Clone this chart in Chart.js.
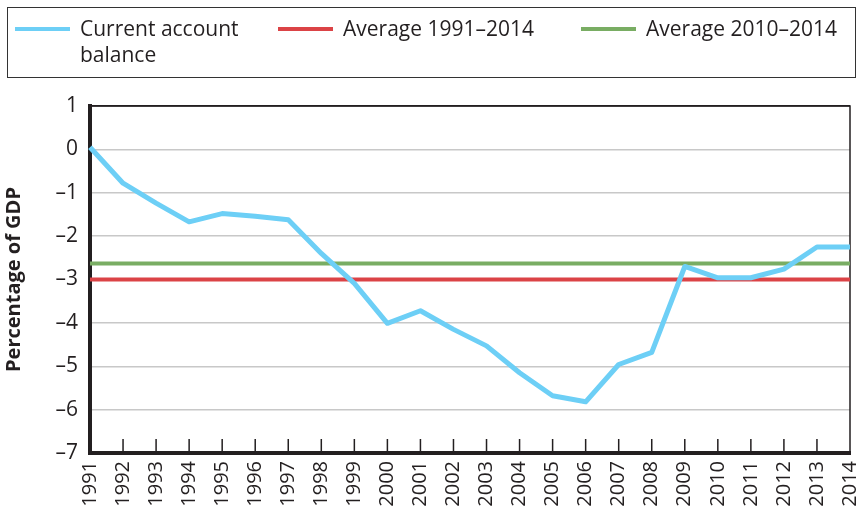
<!DOCTYPE html>
<html>
<head>
<meta charset="utf-8">
<script src="https://cdn.jsdelivr.net/npm/chart.js@4.4.1/dist/chart.umd.min.js"></script>
<style>
    body { margin: 0; background: #fff; font-family: 'Open Sans', sans-serif; color: #231f20; }
    #wrap { position: relative; width: 861px; height: 511px; overflow: hidden; }
    #chart { position: absolute; left: 0; top: 0; }
    #legend { position: absolute; left: 7px; top: 7px; width: 849px; height: 71px; border: 1.5px solid #333; box-sizing: border-box; }
    .swatch { position: absolute; height: 4px; width: 55px; top: 19px; }
    .lab { position: absolute; top: 7px; font-size: 21px; line-height: 26px; }
</style>
</head>
<body>
<div id="wrap">
    <canvas id="chart" width="861" height="511"></canvas>
    <div id="legend"></div>
</div>
<script>
const years = ['1991', '1992', '1993', '1994', '1995', '1996', '1997', '1998', '1999', '2000', '2001', '2002',
    '2003', '2004', '2005', '2006', '2007', '2008', '2009', '2010', '2011', '2012', '2013', '2014'];
const balance = [0.05, -0.78, -1.24, -1.67, -1.48, -1.54, -1.62, -2.40, -3.09, -4.01, -3.72, -4.15,
    -4.53, -5.15, -5.68, -5.82, -4.96, -4.68, -2.70, -2.96, -2.96, -2.76, -2.25, -2.25];
const avg1991to2014 = -3.0;
const avg2010to2014 = -2.63;

const seriesNames = ['Current account\nbalance', 'Average 1991\u20132014', 'Average 2010\u20132014'];
const seriesColors = ['#6dcff6', '#db4346', '#79ad63'];

// legend (html, matches the boxed legend of the original)
const legendPos = [{ line: 7, text: 72 }, { line: 270, text: 335 }, { line: 573, text: 638 }];
const legendEl = document.getElementById('legend');
seriesNames.forEach((name, i) => {
    const sw = document.createElement('div');
    sw.className = 'swatch';
    sw.style.left = legendPos[i].line + 'px';
    sw.style.background = seriesColors[i];
    legendEl.appendChild(sw);
    const lab = document.createElement('div');
    lab.className = 'lab';
    lab.style.left = legendPos[i].text + 'px';
    lab.innerHTML = name.replace('\n', '<br>');
    legendEl.appendChild(lab);
});

const frameAndTicks = {
    id: 'frameAndTicks',
    beforeDatasetsDraw(chart) {
        const { ctx, chartArea, scales } = chart;
        ctx.save();
        ctx.strokeStyle = '#231f20';
        ctx.lineWidth = 1.5;
        ctx.beginPath();
        ctx.moveTo(chartArea.left, chartArea.top);
        ctx.lineTo(chartArea.right, chartArea.top);
        ctx.lineTo(chartArea.right, chartArea.bottom);
        ctx.stroke();
        ctx.beginPath();
        for (let i = 1; i < years.length - 1; i++) {
            const x = scales.x.getPixelForTick(i);
            ctx.moveTo(x, chartArea.bottom);
            ctx.lineTo(x, chartArea.bottom - 14);
        }
        ctx.stroke();
        ctx.restore();
    }
};

const fontFam = "'Open Sans', sans-serif";

new Chart(document.getElementById('chart').getContext('2d'), {
    type: 'line',
    data: {
        labels: years,
        datasets: [
            {
                label: 'Current account balance',
                data: balance,
                borderColor: seriesColors[0],
                borderWidth: 5,
                pointRadius: 0,
                borderJoinStyle: 'round',
                fill: false,
            },
            {
                label: 'Average 1991–2014',
                data: [{ x: years[0], y: avg1991to2014 }, { x: years[years.length - 1], y: avg1991to2014 }],
                borderColor: seriesColors[1],
                borderWidth: 4,
                pointRadius: 0,
                fill: false,
            },
            {
                label: 'Average 2010–2014',
                data: [{ x: years[0], y: avg2010to2014 }, { x: years[years.length - 1], y: avg2010to2014 }],
                borderColor: seriesColors[2],
                borderWidth: 4,
                pointRadius: 0,
                fill: false,
            },
        ],
    },
    options: {
        responsive: false,
        animation: false,
        layout: { padding: { top: 106, right: 11, left: 0, bottom: 0 } },
        plugins: { legend: { display: false }, tooltip: { enabled: false } },
        scales: {
            x: {
                type: 'category',
                offset: false,
                grid: { display: false, drawTicks: false },
                border: { color: '#231f20', width: 4 },
                ticks: {
                    autoSkip: false,
                    minRotation: 90,
                    maxRotation: 90,
                    padding: 8,
                    color: '#231f20',
                    font: { family: fontFam, size: 20 },
                },
                afterFit: s => { s.height = 58; s.paddingLeft = 0; s.paddingRight = 0; },
            },
            y: {
                min: -7,
                max: 1,
                grid: {
                    color: c => c.tick && c.tick.value === 1 ? '#231f20' : '#c8c8c8',
                    lineWidth: 1.5,
                    drawTicks: false,
                },
                border: { color: '#231f20', width: 4 },
                ticks: {
                    stepSize: 1,
                    padding: 12,
                    color: '#231f20',
                    font: { family: fontFam, size: 21 },
                    callback: v => v < 0 ? '\u2013' + Math.abs(v) : String(v),
                },
                title: {
                    display: true,
                    text: 'Percentage of GDP',
                    color: '#231f20',
                    font: { family: fontFam, size: 20, weight: 'bold' },
                    padding: { top: 2, bottom: 0 },
                },
                afterFit: s => { s.width = 90; s.paddingTop = 0; s.paddingBottom = 0; },
            },
        },
    },
    plugins: [frameAndTicks],
});
</script>
</body>
</html>
